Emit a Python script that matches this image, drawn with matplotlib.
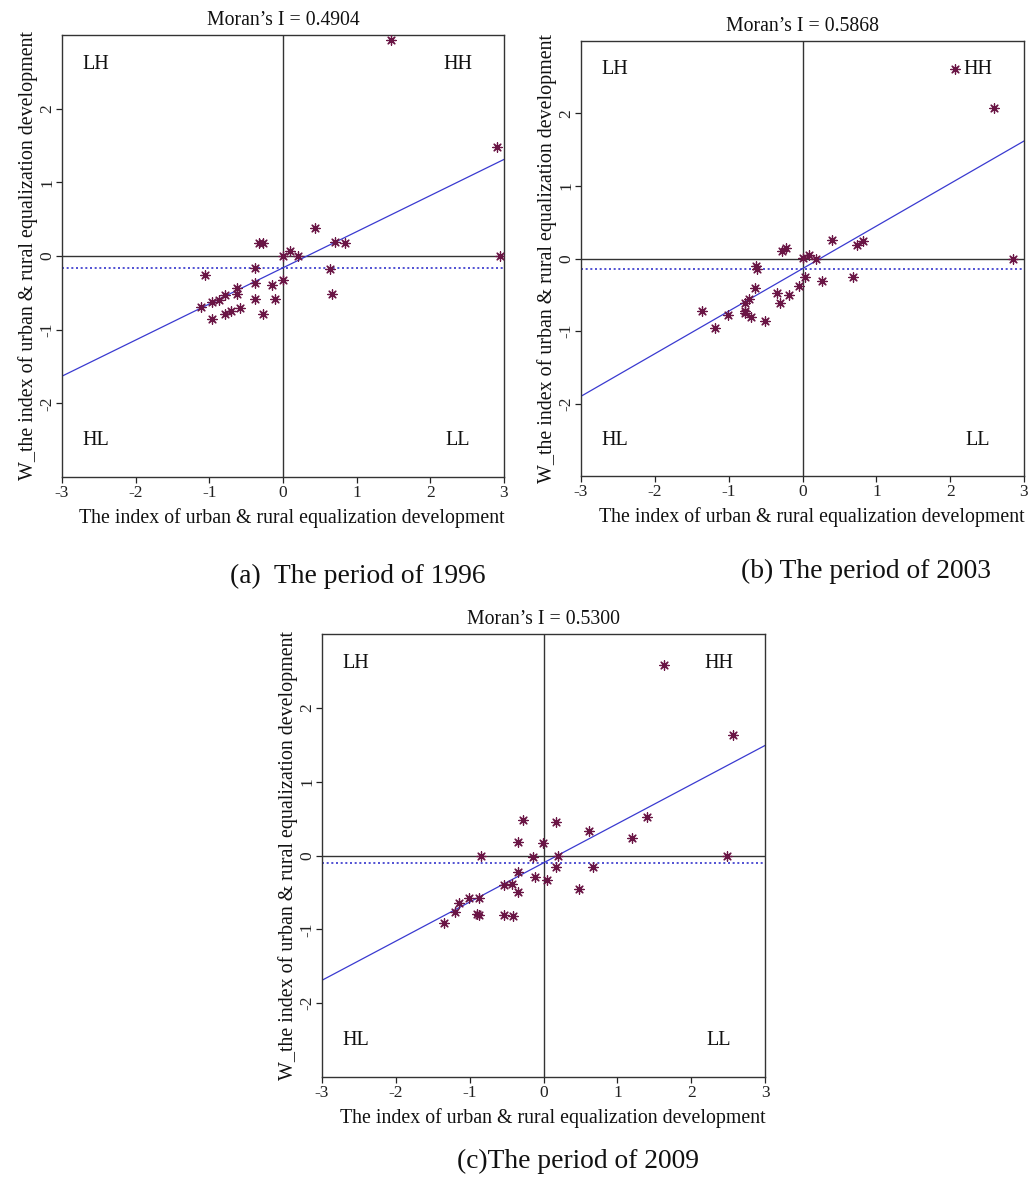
import matplotlib
matplotlib.use("Agg")
import matplotlib.pyplot as plt
import numpy as np

plt.rcParams['font.family'] = ['Liberation Serif', 'DejaVu Serif']
plt.rcParams['axes.unicode_minus'] = False

# ---------------- data ----------------
# (a) 1996
x_1996 = [1.46, 2.90, 2.94, 0.43, 0.70, 0.84, 0.095, 0.21, 0.00, -0.33, -0.27,
          -0.38, 0.64, 0.67, 0.00, -0.15, -0.38, -1.06, -0.62, -0.62, -0.79,
          -0.87, -0.96, -1.11, -0.38, -0.11, -0.58, -0.70, -0.79, -0.96, -0.27]
w_1996 = [2.93, 1.48, 0.00, 0.38, 0.19, 0.17, 0.07, 0.00, 0.00, 0.17, 0.17,
          -0.16, -0.18, -0.51, -0.32, -0.40, -0.36, -0.26, -0.43, -0.51, -0.53,
          -0.60, -0.62, -0.69, -0.58, -0.58, -0.70, -0.75, -0.79, -0.86, -0.79]
# (b) 2003
x_2003 = [2.06, 2.59, 2.85, 0.40, 0.74, 0.82, -0.28, -0.23, 0.00, 0.09, 0.18,
          -0.63, -0.62, 0.04, 0.68, 0.27, -0.05, -0.65, -0.18, -0.34, -0.31,
          -0.73, -0.78, -0.78, -0.78, -0.70, -0.51, -1.36, -1.01, -1.19]
w_2003 = [2.61, 2.08, 0.00, 0.26, 0.19, 0.24, 0.11, 0.15, 0.01, 0.05, 0.00,
          -0.10, -0.15, -0.25, -0.25, -0.31, -0.38, -0.40, -0.51, -0.48, -0.61,
          -0.56, -0.61, -0.72, -0.75, -0.81, -0.86, -0.72, -0.78, -0.96]
# (c) 2009
x_2009 = [1.63, 2.57, 2.49, 1.40, 1.20, 0.61, 0.17, -0.28, -0.34, -0.01, -0.14,
          0.19, -0.84, 0.17, 0.67, -0.34, -0.11, 0.05, 0.48, -0.54, -0.42,
          -0.34, -1.01, -0.87, -1.15, -1.20, -0.90, -0.87, -0.54, -0.41, -1.35]
w_2009 = [2.58, 1.63, 0.00, 0.52, 0.24, 0.33, 0.45, 0.48, 0.18, 0.17, -0.02,
          0.00, 0.00, -0.16, -0.16, -0.22, -0.29, -0.33, -0.46, -0.40, -0.38,
          -0.49, -0.57, -0.58, -0.64, -0.76, -0.79, -0.81, -0.80, -0.82, -0.92]

morans_i = [0.4904, 0.5868, 0.5300]
intercepts = [-0.16, -0.14, -0.10]
captions = ["(a)  The period of 1996", "(b) The period of 2003", "(c)The period of 2009"]
x_ticks = [-3, -2, -1, 0, 1, 2, 3]
y_ticks = [-2, -1, 0, 1, 2]
quadrants = [("LH", -2.54, 2.6), ("HH", 2.37, 2.6), ("HL", -2.54, -2.51), ("LL", 2.37, -2.51)]

xlabel = "The index of urban & rural equalization development"
ylabel = "W_the index of urban & rural equalization development"

# ---------------- figure ----------------
W, H = 1029, 1188
fig = plt.figure(figsize=(W / 100, H / 100), dpi=100)

def px_axes(l, t, r, b):
    return fig.add_axes([l / W, 1 - b / H, (r - l) / W, (b - t) / H])

boxes = [(62, 35, 504, 477), (581, 41, 1024, 476), (322, 634, 765, 1077)]
xs = [x_1996, x_2003, x_2009]
ws = [w_1996, w_2003, w_2009]
caption_pos = [(358, 576), (866, 571), (578, 1161)]

for i in range(3):
    ax = px_axes(*boxes[i])
    ax.set_xlim(-3, 3)
    ax.set_ylim(-3, 3)
    ax.axhline(0, color='#333333', lw=1.0, zorder=1)
    ax.axvline(0, color='#333333', lw=1.0, zorder=1)
    ax.axhline(intercepts[i], color='#3333cc', lw=1.2, ls=(0, (1.2, 1.6)), zorder=2)
    xl = np.array(ax.get_xlim())
    ax.plot(xl, intercepts[i] + morans_i[i] * xl, color='#3a3ad0', lw=0.9, zorder=2)
    ax.scatter(xs[i], ws[i], marker=(8, 2, 0), s=46, color='#6a1545', lw=0.9, zorder=3)
    for lab, qx, qy in quadrants:
        ax.text(qx, qy, lab, fontsize=14.5, ha='center', va='center', color='#111111')
    ax.set_xticks(x_ticks)
    ax.set_yticks(y_ticks)
    ax.set_yticklabels([str(v) for v in y_ticks], rotation=90, va='center')
    ax.tick_params(direction='out', length=4, width=0.9, labelsize=12.5, colors='#222222')
    ax.tick_params(axis='x', pad=2)
    ax.tick_params(axis='y', pad=1)
    for sp in ax.spines.values():
        sp.set_color('#333333')
        sp.set_linewidth(1.0)
    ax.set_xlabel(xlabel, fontsize=14.3, labelpad=5, color='#111111', x=0.52)
    ax.set_ylabel(ylabel, fontsize=14.4, labelpad=1, color='#111111')
    ax.set_title("Moran\u2019s I = %.4f" % morans_i[i], fontsize=14.2, pad=7, color='#111111')
    cx, cy = caption_pos[i]
    fig.text(cx / W, 1 - cy / H, captions[i], fontsize=19.8, ha='center', va='center', color='#111111')

fig.savefig("out.png", dpi=100, facecolor='white')
